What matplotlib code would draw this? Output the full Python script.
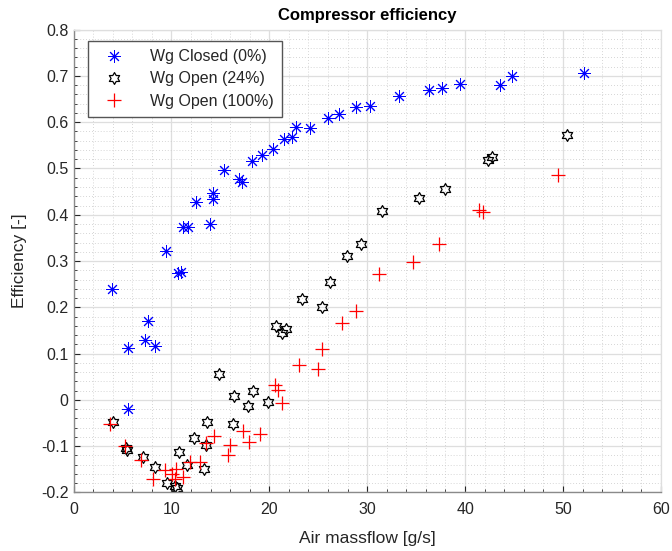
import numpy as np
import matplotlib
matplotlib.use("Agg")
import matplotlib.pyplot as plt
from matplotlib.path import Path
from matplotlib.ticker import MultipleLocator

plt.rcParams['font.family'] = ['Liberation Sans', 'DejaVu Sans']

# Wastegate closed (0%)
closed_x = [3.9, 5.6, 5.6, 7.3, 7.6, 8.3, 9.4, 10.7, 10.95, 11.2, 11.7, 12.5,
            13.9, 14.2, 14.2, 15.4, 16.9, 17.2, 18.2, 19.3, 20.4, 21.5, 22.3,
            22.7, 24.2, 26.0, 27.1, 28.9, 30.3, 33.3, 36.3, 37.6, 39.5, 43.6,
            44.8, 52.2]
closed_y = [0.239, 0.112, -0.020, 0.129, 0.170, 0.116, 0.321, 0.274, 0.276,
            0.373, 0.373, 0.427, 0.381, 0.447, 0.434, 0.496, 0.477, 0.470,
            0.516, 0.529, 0.542, 0.563, 0.568, 0.589, 0.587, 0.609, 0.617,
            0.632, 0.635, 0.656, 0.669, 0.673, 0.682, 0.680, 0.700, 0.706]

# Wastegate open (24%)
open24_x = [4.0, 5.4, 5.5, 7.1, 8.3, 9.5, 10.4, 10.6, 10.8, 11.6, 12.3, 13.3,
            13.5, 13.6, 14.9, 16.4, 16.3, 17.8, 18.3, 19.9, 20.7, 21.3, 21.75,
            23.3, 25.4, 26.2, 27.9, 29.4, 31.5, 35.3, 38.0, 42.3, 42.8, 50.4]
open24_y = [-0.047, -0.103, -0.108, -0.123, -0.146, -0.179, -0.186, -0.191,
            -0.113, -0.140, -0.083, -0.150, -0.098, -0.047, 0.057, 0.008,
            -0.051, -0.014, 0.019, -0.004, 0.159, 0.144, 0.154, 0.218, 0.200,
            0.254, 0.311, 0.336, 0.408, 0.437, 0.455, 0.518, 0.525, 0.573]

# Wastegate open (100%)
open100_x = [3.7, 5.25, 6.9, 8.1, 9.3, 10.1, 10.5, 10.4, 11.2, 11.9, 12.9,
             13.5, 14.4, 15.8, 16.0, 17.3, 17.9, 19.1, 20.6, 20.9, 21.3, 23.0,
             25.0, 25.4, 27.4, 28.9, 31.2, 34.7, 37.3, 41.4, 41.8, 49.5]
open100_y = [-0.051, -0.100, -0.129, -0.170, -0.152, -0.159, -0.150, -0.170,
             -0.166, -0.134, -0.134, -0.094, -0.078, -0.120, -0.098, -0.068,
             -0.090, -0.074, 0.033, 0.022, -0.006, 0.075, 0.066, 0.110, 0.167,
             0.193, 0.272, 0.298, 0.336, 0.411, 0.406, 0.487]

y_ticks = [-0.2, -0.1, 0, 0.1, 0.2, 0.3, 0.4, 0.5, 0.6, 0.7, 0.8]


def hexagram_marker():
    # outline of a six-pointed star (MATLAB 'h')
    verts = []
    r_in = 1 / np.sqrt(3)
    for k in range(12):
        ang = np.pi / 2 + k * np.pi / 6
        r = 1.0 if k % 2 == 0 else r_in
        verts.append((r * np.cos(ang), r * np.sin(ang)))
    verts.append(verts[0])
    codes = [Path.MOVETO] + [Path.LINETO] * 11 + [Path.CLOSEPOLY]
    return Path(verts, codes)


TXT = "#262626"

fig = plt.figure(figsize=(6.72, 5.51), dpi=100)
ax = fig.add_axes([0.1094, 0.1062, 0.874, 0.840])

ax.plot(closed_x, closed_y, linestyle="none", marker=(8, 2, 0), ms=9,
        mec="#0000ff", mew=0.7, label="Wg Closed (0%)")
ax.plot(open24_x, open24_y, linestyle="none", marker=hexagram_marker(), ms=8.5,
        mfc="none", mec="black", mew=0.9, label="Wg Open (24%)")
ax.plot(open100_x, open100_y, linestyle="none", marker="+", ms=10,
        mec="#ff0000", mew=0.9, label="Wg Open (100%)")

ax.set_xlim(0, 60)
ax.set_ylim(-0.2, 0.8)
ax.xaxis.set_major_locator(MultipleLocator(10))
ax.xaxis.set_minor_locator(MultipleLocator(2))
ax.set_yticks(y_ticks)
ax.set_yticklabels([f"{v:g}" for v in y_ticks])
ax.yaxis.set_minor_locator(MultipleLocator(0.02))

ax.grid(which="major", color="#dedede", linewidth=0.9)
ax.grid(which="minor", color="#c8c8c8", linewidth=0.6, linestyle=(0, (1, 2.5)))
ax.set_axisbelow(True)

ax.tick_params(which="both", direction="in", colors=TXT, labelsize=11.5,
               top=False, right=False)
ax.tick_params(which="major", length=4, width=0.8)
ax.tick_params(which="minor", length=2, width=0.6)
ax.tick_params(axis="x", pad=7)
for s in ["left", "bottom"]:
    ax.spines[s].set_color("#8a8a8a")
    ax.spines[s].set_linewidth(1.0)
for s in ["top", "right"]:
    ax.spines[s].set_color("#dedede")
    ax.spines[s].set_linewidth(0.9)

ax.set_xlabel("Air massflow [g/s]", fontsize=12.5, color=TXT, labelpad=10)
ax.set_ylabel("Efficiency [-]", fontsize=12.5, color=TXT, labelpad=10)
ax.set_title("Compressor efficiency", fontsize=12, fontweight="bold",
             color="black", pad=7)

leg = ax.legend(loc="upper left", bbox_to_anchor=(0.025, 0.975), fontsize=11.5,
                frameon=True, fancybox=False, framealpha=1, edgecolor="#555555",
                handlelength=2.2, handletextpad=1.2, borderpad=0.5,
                labelspacing=0.45, borderaxespad=0)
leg.get_frame().set_linewidth(1.0)
for t in leg.get_texts():
    t.set_color(TXT)

fig.savefig("out.png", dpi=100)
